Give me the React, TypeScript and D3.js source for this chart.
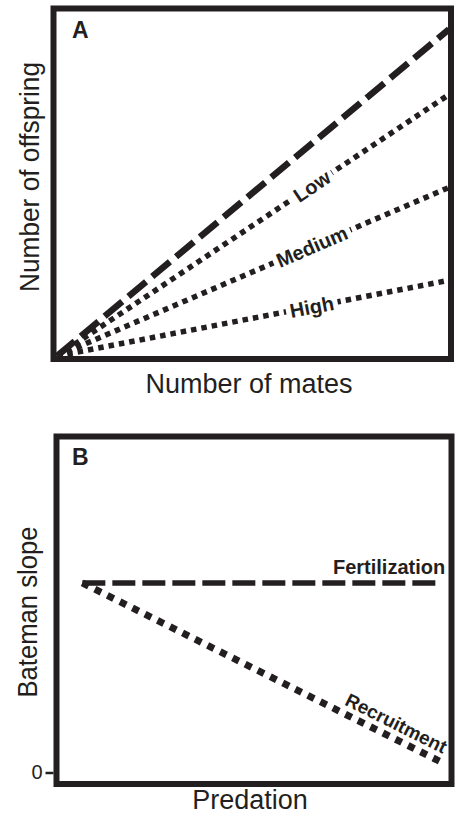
import React, { useEffect, useRef } from "react";
import * as d3 from "d3";

// panel A: number of offspring vs number of mates
const matesX = [0, 100];
const dashedOffspring = [0, 95];
const lowOffspring = [0, 76];
const mediumOffspring = [0, 49];
const highOffspring = [0, 22];
const predationLevels = ["Low", "Medium", "High"];
const labelMates = 65;

// panel B: Bateman slope vs predation
const predationX = [6, 98.5];
const fertilizationSlope = [57, 57];
const recruitmentSlope = [57, 3];
const slopeTicks = [0];
const recruitmentLabelAt = 85;

const W = 459;
const H = 816;
const ink = "#231f20";
const font = "'Liberation Sans', Arial, Helvetica, sans-serif";

const App = () => {
  const ref = useRef<SVGSVGElement>(null);

  useEffect(() => {
    const svg = d3.select(ref.current);
    svg.selectAll("*").remove();

    // ---------- Panel A ----------
    const xA = d3.scaleLinear().domain([0, 100]).range([57, 449]);
    const yA = d3.scaleLinear().domain([0, 100]).range([356, 12]);
    const a = svg.append("g");

    a.append("rect")
      .attr("x", 53.5).attr("y", 8.5)
      .attr("width", 451 - 53.5).attr("height", 359 - 8.5)
      .attr("fill", "none").attr("stroke", ink).attr("stroke-width", 6);

    const lineA = d3
      .line<number>()
      .x((d, i) => xA(matesX[i]))
      .y((d) => yA(d));

    a.append("path")
      .attr("d", lineA(dashedOffspring))
      .attr("fill", "none").attr("stroke", ink)
      .attr("stroke-width", 6.5).attr("stroke-dasharray", "23,8");

    const dotted = [lowOffspring, mediumOffspring, highOffspring];
    dotted.forEach((vals, k) => {
      a.append("path")
        .attr("d", lineA(vals))
        .attr("fill", "none").attr("stroke", ink)
        .attr("stroke-width", 5.5).attr("stroke-dasharray", "5.5,5");

      const x0 = xA(matesX[0]), y0 = yA(vals[0]);
      const x1 = xA(matesX[1]), y1 = yA(vals[1]);
      const ang = (Math.atan2(y1 - y0, x1 - x0) * 180) / Math.PI;
      const t = (labelMates - matesX[0]) / (matesX[1] - matesX[0]);
      const cx = x0 + t * (x1 - x0);
      const cy = y0 + t * (y1 - y0);
      const g = a.append("g").attr("transform", `translate(${cx},${cy}) rotate(${ang})`);
      const bg = g.append("rect").attr("fill", "white");
      const txt = g.append("text")
        .attr("text-anchor", "middle").attr("dy", "0.36em")
        .attr("font-family", font).attr("font-weight", "bold")
        .attr("font-size", 20).attr("fill", ink)
        .text(predationLevels[k]);
      const len = (txt.node() as SVGTextElement).getComputedTextLength();
      bg.attr("x", -len / 2 - 4).attr("y", -7).attr("width", len + 8).attr("height", 14);
    });

    a.append("text")
      .attr("x", 72).attr("y", 38)
      .attr("font-family", font).attr("font-weight", "bold")
      .attr("font-size", 23).attr("fill", ink).text("A");

    a.append("text")
      .attr("transform", "translate(39,177) rotate(-90)")
      .attr("text-anchor", "middle")
      .attr("font-family", font).attr("font-size", 27)
      .attr("textLength", 230).attr("lengthAdjust", "spacingAndGlyphs")
      .attr("fill", ink).text("Number of offspring");

    a.append("text")
      .attr("x", 249).attr("y", 393)
      .attr("text-anchor", "middle")
      .attr("font-family", font).attr("font-size", 27)
      .attr("fill", ink).text("Number of mates");

    // ---------- Panel B ----------
    const xB = d3.scaleLinear().domain([0, 100]).range([59, 448]);
    const yB = d3.scaleLinear().domain([0, 100]).range([772.5, 440]);
    const b = svg.append("g");

    b.append("rect")
      .attr("x", 56.5).attr("y", 436.5)
      .attr("width", 451.5 - 56.5).attr("height", 784 - 436.5)
      .attr("fill", "none").attr("stroke", ink).attr("stroke-width", 6);

    const yAxis = d3.axisLeft(yB).tickValues(slopeTicks).tickSize(8).tickPadding(3).tickFormat((d) => `${d}`);
    const ax = b.append("g").attr("transform", "translate(53.5,0)").call(yAxis);
    ax.select(".domain").remove();
    ax.selectAll("line").attr("stroke", ink).attr("stroke-width", 2.5);
    ax.selectAll("text")
      .attr("font-family", font).attr("font-size", 20).attr("fill", ink);

    const lineB = d3
      .line<number>()
      .x((d, i) => xB(predationX[i]))
      .y((d) => yB(d));

    b.append("path")
      .attr("d", lineB(fertilizationSlope))
      .attr("fill", "none").attr("stroke", ink)
      .attr("stroke-width", 5.5).attr("stroke-dasharray", "23,7");

    b.append("path")
      .attr("d", lineB(recruitmentSlope))
      .attr("fill", "none").attr("stroke", ink)
      .attr("stroke-width", 7).attr("stroke-dasharray", "7,7");

    b.append("text")
      .attr("x", xB(predationX[1]) + 3).attr("y", yB(fertilizationSlope[1]) - 9)
      .attr("text-anchor", "end")
      .attr("font-family", font).attr("font-weight", "bold")
      .attr("font-size", 20).attr("fill", ink).text("Fertilization");

    {
      const x0 = xB(predationX[0]), y0 = yB(recruitmentSlope[0]);
      const x1 = xB(predationX[1]), y1 = yB(recruitmentSlope[1]);
      const ang = (Math.atan2(y1 - y0, x1 - x0) * 180) / Math.PI;
      const t = (recruitmentLabelAt - predationX[0]) / (predationX[1] - predationX[0]);
      const cx = x0 + t * (x1 - x0);
      const cy = y0 + t * (y1 - y0);
      b.append("text")
        .attr("transform", `translate(${cx},${cy}) rotate(${ang})`)
        .attr("text-anchor", "middle").attr("y", -8)
        .attr("font-family", font).attr("font-weight", "bold")
        .attr("font-size", 19).attr("fill", ink).text("Recruitment");
    }

    b.append("text")
      .attr("x", 72).attr("y", 465)
      .attr("font-family", font).attr("font-weight", "bold")
      .attr("font-size", 23).attr("fill", ink).text("B");

    b.append("text")
      .attr("transform", "translate(37,612) rotate(-90)")
      .attr("text-anchor", "middle")
      .attr("font-family", font).attr("font-size", 27)
      .attr("textLength", 171).attr("lengthAdjust", "spacingAndGlyphs")
      .attr("fill", ink).text("Bateman slope");

    b.append("text")
      .attr("x", 250).attr("y", 809)
      .attr("text-anchor", "middle")
      .attr("font-family", font).attr("font-size", 27)
      .attr("fill", ink).text("Predation");
  }, []);

  return (
    <svg
      ref={ref}
      width={W}
      height={H}
      style={{ position: "absolute", left: 0, top: 0, background: "white" }}
    />
  );
};

export default App;
